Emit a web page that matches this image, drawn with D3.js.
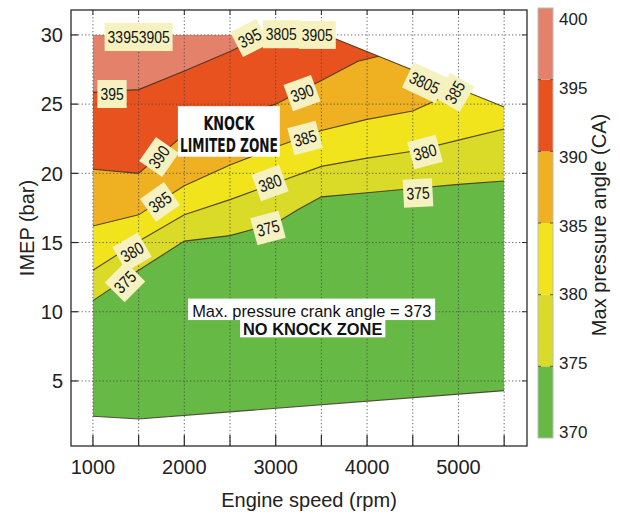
<!DOCTYPE html>
<html>
<head>
<meta charset="utf-8">
<script src="https://cdn.jsdelivr.net/npm/d3@7"></script>
<style>
  body { margin: 0; background: #fff; }
  svg { display: block; font-family: "Liberation Sans", Arial, Helvetica, sans-serif; }
</style>
</head>
<body>
<svg id="chart" width="620" height="517"></svg>
<script>
// Max pressure crank angle map (deg CA) over engine speed / IMEP

// Contour levels and band fill colours (one colour per band between levels)
const levels = [370, 375, 380, 385, 390, 395, 400];
const bandColors = ["#67b946", "#dadb29", "#f1e41d", "#efb122", "#e8521f", "#e4816a"];

// Operating map envelope: [rpm, IMEP bar]
const mapTop = [[1000, 30], [3550, 30], [5500, 24.8]];
const mapBottom = [[5500, 4.3], [1500, 2.25], [1000, 2.45]];

// Iso-angle contour lines: [rpm, IMEP bar]
const line375 = [[1000, 10.8], [1500, 13.0], [2000, 15.1], [2500, 15.5], [3000, 16.4], [3250, 17.4], [3500, 18.3], [4000, 18.6], [4500, 18.9], [5000, 19.2], [5500, 19.45]];
const line380 = [[1000, 13.0], [1500, 15.1], [2000, 17.0], [2500, 18.1], [3000, 19.3], [3500, 20.5], [4000, 21.1], [4500, 21.6], [5000, 22.4], [5500, 23.2]];
const line385 = [[1000, 16.2], [1500, 17.0], [2000, 19.1], [2500, 20.6], [3000, 21.9], [3500, 23.1], [4000, 23.9], [4500, 24.5], [4800, 25.4], [4950, 26.4]];
const line390 = [[1000, 20.3], [1500, 20.0], [1750, 21.4], [2000, 22.8], [2500, 24.0], [3000, 25.0], [3500, 26.7], [3900, 28.1], [4150, 28.5]];
const line395 = [[1000, 25.85], [1500, 26.05], [2000, 27.4], [2500, 28.8], [2900, 30.05]];
const contourLines = [line375, line380, line385, line390, line395];

// Inline contour labels: text, position [rpm, IMEP], rotation (deg)
const labelTexts  = ["33953905", "395", "3805", "3905", "395", "390", "385", "380", "375", "390", "385", "380", "375", "380", "375", "385", "3805"];
const labelRpm    = [1500, 2715, 3062, 3455, 1209, 1723, 1734, 1428, 1351, 3288, 3321, 2938, 2916, 4634, 4557, 4960, 4630];
const labelImep   = [29.85, 29.78, 30.05, 30.0, 25.73, 21.18, 17.93, 14.32, 12.15, 25.8, 22.55, 19.3, 16.05, 21.54, 18.58, 25.85, 26.55];
const labelAngle  = [0, -27, 0, 0, 0, -55, -35, -30, -45, -20, -15, -20, -15, -15, -3, -60, 25];

// Axis ticks
const rpmTicks = [1000, 2000, 3000, 4000, 5000];
const rpmGrid = [1000, 1500, 2000, 2500, 3000, 3500, 4000, 4500, 5000, 5500];
const imepTicks = [5, 10, 15, 20, 25, 30];

const svg = d3.select("#chart");
const frame = { left: 71, right: 527, top: 10, bottom: 446 };

const x = d3.scaleLinear().domain([760, 5750]).range([frame.left, frame.right]);
const y = d3.scaleLinear().domain([0.3, 31.8]).range([frame.bottom, frame.top]);

const lineGen = d3.line().x(d => x(d[0])).y(d => y(d[1]));

// Clip everything to the measured envelope
const envelope = mapTop.concat(mapBottom);
svg.append("defs").append("clipPath").attr("id", "mapClip")
  .append("path").attr("d", lineGen(envelope) + "Z");

const mapG = svg.append("g").attr("clip-path", "url(#mapClip)");

// Lowest band fills the whole envelope, higher bands stacked above each contour line
mapG.append("path").attr("d", lineGen(envelope) + "Z").attr("fill", bandColors[0]);
contourLines.forEach((ln, i) => {
  const area = d3.area().x(d => x(d[0])).y0(d => y(d[1])).y1(frame.top - 5);
  mapG.append("path").datum(ln).attr("d", area).attr("fill", bandColors[i + 1]);
});

// Grid (dotted)
const grid = svg.append("g").attr("stroke", "#444").attr("stroke-opacity", 0.8)
  .attr("stroke-width", 1).attr("stroke-dasharray", "1.3,2.2");
grid.selectAll("line.v").data(rpmGrid).join("line")
  .attr("x1", d => x(d)).attr("x2", d => x(d))
  .attr("y1", frame.top).attr("y2", frame.bottom);
grid.selectAll("line.h").data(imepTicks).join("line")
  .attr("x1", frame.left).attr("x2", frame.right)
  .attr("y1", d => y(d)).attr("y2", d => y(d));

// Contour lines
const lineG = svg.append("g").attr("clip-path", "url(#mapClip)")
  .attr("fill", "none").attr("stroke", "#3b3020").attr("stroke-width", 1.1).attr("stroke-opacity", 0.85);
contourLines.forEach(ln => lineG.append("path").datum(ln).attr("d", lineGen));

// Envelope edges (top slope and bottom)
const edgeG = svg.append("g").attr("fill", "none").attr("stroke", "#3b3020")
  .attr("stroke-width", 1.1).attr("stroke-opacity", 0.85);
edgeG.append("path").datum(mapTop.slice(1)).attr("d", lineGen);
edgeG.append("path").datum(mapBottom).attr("d", lineGen);

// Contour labels (narrow digits)
const labelFont = 17;
const labelG = svg.append("g");
labelTexts.forEach((t, i) => {
  const g = labelG.append("g")
    .attr("transform", `translate(${x(labelRpm[i])},${y(labelImep[i])}) rotate(${labelAngle[i]})`);
  const w = t.length * 0.456 * labelFont;
  g.append("rect").attr("x", -w / 2 - 3).attr("y", -14).attr("width", w + 6).attr("height", 28)
    .attr("fill", "#f5f2c0");
  g.append("text").attr("text-anchor", "middle").attr("dy", "0.36em")
    .attr("font-family", "'Liberation Sans Narrow','Liberation Sans',Arial,sans-serif")
    .attr("font-size", labelFont).attr("fill", "#111")
    .attr("textLength", w).attr("lengthAdjust", "spacingAndGlyphs").text(t);
});

// Annotations
const knock = svg.append("g");
knock.append("rect").attr("x", x(1930)).attr("y", y(24.85))
  .attr("width", x(3045) - x(1930)).attr("height", y(21.2) - y(24.85)).attr("fill", "#fff");
knock.append("text").attr("x", x(2488)).attr("y", y(23.15)).attr("text-anchor", "middle")
  .attr("font-family", "'Liberation Sans Narrow','DejaVu Sans Condensed',sans-serif")
  .attr("font-weight", "bold").attr("font-size", 20).attr("fill", "#111")
  .attr("textLength", 51).attr("lengthAdjust", "spacingAndGlyphs").text("KNOCK");
knock.append("text").attr("x", x(2488)).attr("y", y(21.55)).attr("text-anchor", "middle")
  .attr("font-family", "'Liberation Sans Narrow','DejaVu Sans Condensed',sans-serif")
  .attr("font-weight", "bold").attr("font-size", 20).attr("fill", "#111")
  .attr("textLength", 98).attr("lengthAdjust", "spacingAndGlyphs").text("LIMITED ZONE");

const noKnock = svg.append("g");
noKnock.append("rect").attr("x", x(2040)).attr("y", y(10.95))
  .attr("width", x(4745) - x(2040)).attr("height", y(9.4) - y(10.95)).attr("fill", "#fff");
noKnock.append("rect").attr("x", x(2610)).attr("y", y(9.5))
  .attr("width", x(4200) - x(2610)).attr("height", y(8.15) - y(9.5)).attr("fill", "#fff");
noKnock.append("text").attr("x", x(3395)).attr("y", y(9.65)).attr("text-anchor", "middle")
  .attr("font-size", 16.4).attr("fill", "#111").text("Max. pressure crank angle = 373");
noKnock.append("text").attr("x", x(3405)).attr("y", y(8.3)).attr("text-anchor", "middle")
  .attr("font-size", 16.4).attr("font-weight", "bold").attr("fill", "#111").text("NO KNOCK ZONE");

// Frame and ticks
const axG = svg.append("g").attr("stroke", "#2a2a2a");
axG.append("rect").attr("x", frame.left).attr("y", frame.top)
  .attr("width", frame.right - frame.left).attr("height", frame.bottom - frame.top)
  .attr("fill", "none").attr("stroke-width", 1.3);
axG.selectAll("line.bt").data(rpmGrid).join("line")
  .attr("x1", d => x(d)).attr("x2", d => x(d))
  .attr("y1", frame.bottom).attr("y2", frame.bottom - 11).attr("stroke-width", 1.2);
axG.selectAll("line.tt").data(rpmGrid).join("line")
  .attr("x1", d => x(d)).attr("x2", d => x(d))
  .attr("y1", frame.top).attr("y2", frame.top + 5).attr("stroke-width", 1);
axG.selectAll("line.lt").data(imepTicks).join("line")
  .attr("x1", frame.left).attr("x2", frame.left + 7)
  .attr("y1", d => y(d)).attr("y2", d => y(d)).attr("stroke-width", 1.2);
axG.selectAll("line.rt").data(imepTicks).join("line")
  .attr("x1", frame.right).attr("x2", frame.right - 5)
  .attr("y1", d => y(d)).attr("y2", d => y(d)).attr("stroke-width", 1);

// Tick labels
svg.append("g").selectAll("text").data(rpmTicks).join("text")
  .attr("x", d => x(d)).attr("y", 474).attr("text-anchor", "middle")
  .attr("font-size", 20).attr("fill", "#222").text(d => d);
svg.append("g").selectAll("text").data(imepTicks).join("text")
  .attr("x", 63).attr("y", d => y(d)).attr("dy", "0.36em").attr("text-anchor", "end")
  .attr("font-size", 20).attr("fill", "#222").text(d => d);

// Axis titles
svg.append("text").attr("x", 309).attr("y", 507).attr("text-anchor", "middle")
  .attr("font-size", 20).attr("fill", "#222").text("Engine speed (rpm)");
svg.append("text").attr("transform", "translate(34,228) rotate(-90)").attr("text-anchor", "middle")
  .attr("font-size", 20).attr("fill", "#222").text("IMEP (bar)");

// Colour bar
const cb = d3.scaleLinear().domain([370, 400]).range([438, 8]);
const cbLabel = d3.scaleLinear().domain([370, 400]).range([432, 19]);
const cbX = 538, cbW = 15;
const cbG = svg.append("g");
bandColors.forEach((c, i) => {
  cbG.append("rect").attr("x", cbX).attr("y", cb(levels[i + 1]))
    .attr("width", cbW).attr("height", cb(levels[i]) - cb(levels[i + 1])).attr("fill", c);
});
cbG.append("rect").attr("x", cbX).attr("y", cb(400)).attr("width", cbW).attr("height", cb(370) - cb(400))
  .attr("fill", "none").attr("stroke", "#bbb").attr("stroke-width", 1);
cbG.selectAll("line.cl").data(levels.slice(1, -1)).join("line")
  .attr("x1", cbX).attr("x2", cbX + 3).attr("y1", d => cb(d)).attr("y2", d => cb(d))
  .attr("stroke", "#555").attr("stroke-width", 1);
cbG.selectAll("line.cr").data(levels.slice(1, -1)).join("line")
  .attr("x1", cbX + cbW - 3).attr("x2", cbX + cbW).attr("y1", d => cb(d)).attr("y2", d => cb(d))
  .attr("stroke", "#555").attr("stroke-width", 1);
cbG.selectAll("text").data(levels).join("text")
  .attr("x", 559).attr("y", d => cbLabel(d)).attr("dy", "0.36em")
  .attr("font-size", 17).attr("fill", "#222").text(d => d);
svg.append("text").attr("transform", "translate(606,225) rotate(-90)").attr("text-anchor", "middle")
  .attr("font-size", 20).attr("fill", "#222").text("Max pressure angle (CA)");
</script>
</body>
</html>
